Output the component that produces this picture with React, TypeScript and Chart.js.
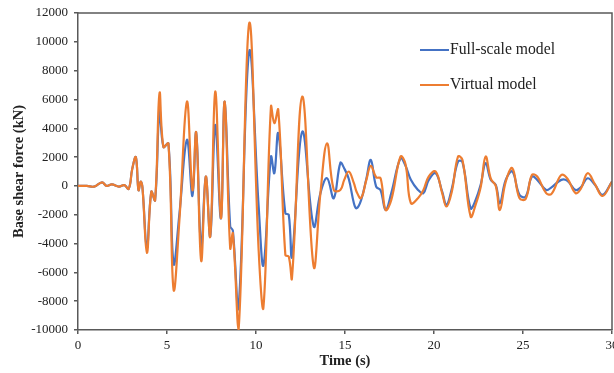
import React, { useEffect, useRef } from "react";
import { Chart, registerables } from "chart.js";

Chart.register(...registerables);

const times = [
  0, 0.5, 0.9, 1.35, 1.6, 1.9, 2.3, 2.6, 2.85, 3.05, 3.25, 3.4, 3.52, 3.62, 3.87, 4.12, 4.33,
  4.58, 4.8, 5.08, 5.37, 5.7, 6.12, 6.43, 6.64, 6.92, 7.18, 7.43, 7.71, 8.03, 8.24, 8.55, 8.7,
  9.02, 9.62, 10.15, 10.42, 10.84, 11.03, 11.25, 11.65, 11.84, 12.02, 12.6, 13.24, 13.62, 13.99,
  14.37, 14.74, 14.95, 15.21, 15.5, 15.65, 15.9, 16.2, 16.45, 16.75, 17.0, 17.28, 17.6, 18.12,
  18.4, 18.7, 19.1, 19.4, 19.7, 20.09, 20.46, 20.7, 21.0, 21.35, 21.6, 22.06, 22.34, 22.62, 22.9,
  23.19, 23.47, 23.7, 24.03, 24.4, 24.8, 25.15, 25.5, 25.8, 26.3, 26.6, 27.15, 27.5, 27.95, 28.25,
  28.63, 29.05, 29.47, 30,
];

const fullScale = [
  0, 0, -50, 250, 0, 100, -50, 50, -200, 1200, 2000, -300, 300, -100, -4300, -400, -1000,
  5200, 2700, 2950, -5400, -1900, 3200, -700, 3700, -4300, 650, -3500, 4240, -2250, 5850, -2800, -3100,
  -8400, 9330, -1430, -5500, 2030, 880, 3650, -1900, -2000, -4900, 3770, -2800, -500, 530,
  -850, 1600, 1230, 500, -1200, -1550, -1000, 500, 1800, -50, -300, -1670, -500, 1920,
  1400, 420, -280, -500, 400, 880, -400, -1320, -200, 1690, 1650, -1550, -970, 70, 1570,
  420, 70, -1200, 420, 1000, -620, -740, 650, 420, -280, -100, 420, 350, -280, -100,
  530, 70, -620, 300,
];

const virtualModel = [
  0, 0, -50, 250, 0, 100, -50, 50, -200, 1200, 2000, -300, 300, -100, -4650, -400, -1000,
  6440, 2700, 2950, -7200, -2300, 5850, -300, 3700, -5200, 650, -3500, 6550, -2250, 5850, -4330, -3300,
  -10000, 11300, -4500, -8400, 5500, 4350, 5280, -4800, -4900, -6400, 6200, -5600, -500, 2960,
  -280, -280, 400, 1000, 190, -400, -850, 420, 1400, 600, 530, -1670, -970, 2040,
  1500, -1200, -850, -300, 650, 1000, -500, -1430, -400, 2040, 1800, -2130, -1300, -100, 2040,
  500, 0, -1670, 300, 1230, -850, -900, 760, 650, -500, -550, 760, 500, -500, -200,
  880, 100, -700, 300,
];

const xTicks = [0, 5, 10, 15, 20, 25, 30];
const legendLabels = ["Full-scale model", "Virtual model"];

const BLUE = "#4472C4";
const ORANGE = "#ED7D31";
const AXIS = "#595959";
const SERIF = "'Liberation Serif', 'Times New Roman', serif";

export default function App() {
  const ref = useRef<HTMLCanvasElement | null>(null);

  useEffect(() => {
    document.body.style.margin = "0";
    document.body.style.overflow = "hidden";
    const canvas = ref.current;
    if (!canvas) return;

    const framePlugin = {
      id: "frameAndLegend",
      afterDraw(chart: any) {
        const { ctx, chartArea } = chart;
        ctx.save();
        ctx.strokeStyle = AXIS;
        ctx.lineWidth = 1.5;
        ctx.beginPath();
        ctx.moveTo(chartArea.left, chartArea.top);
        ctx.lineTo(chartArea.right, chartArea.top);
        ctx.lineTo(chartArea.right, chartArea.bottom);
        ctx.stroke();

        const items = [
          { label: legendLabels[0], color: BLUE, y: 50 },
          { label: legendLabels[1], color: ORANGE, y: 85 },
        ];
        ctx.font = `15.7px ${SERIF}`;
        ctx.textBaseline = "middle";
        ctx.fillStyle = "#222";
        for (const it of items) {
          ctx.strokeStyle = it.color;
          ctx.lineWidth = 2;
          ctx.beginPath();
          ctx.moveTo(420, it.y);
          ctx.lineTo(449, it.y);
          ctx.stroke();
          ctx.fillText(it.label, 450, it.y);
        }
        ctx.restore();
      },
    };

    const chart = new Chart(canvas, {
      type: "line",
      data: {
        datasets: [
          {
            label: legendLabels[1],
            data: times.map((t, i) => ({ x: t, y: virtualModel[i] })),
            borderColor: ORANGE,
            borderWidth: 2.2,
            pointRadius: 0,
            tension: 0.4,
            order: 0,
          },
          {
            label: legendLabels[0],
            data: times.map((t, i) => ({ x: t, y: fullScale[i] })),
            borderColor: BLUE,
            borderWidth: 2.2,
            pointRadius: 0,
            tension: 0.4,
            order: 1,
          },
        ],
      },
      options: {
        responsive: false,
        animation: false,
        devicePixelRatio: 1,
        layout: { padding: { top: 13, right: 2, left: 0, bottom: 0 } },
        plugins: { legend: { display: false }, tooltip: { enabled: false } },
        scales: {
          x: {
            type: "linear",
            min: 0,
            max: 30,
            afterBuildTicks: (s: any) => {
              s.ticks = xTicks.map((v) => ({ value: v }));
            },
            afterFit: (s: any) => {
              s.height = 43;
              s.paddingLeft = 0;
              s.paddingRight = 0;
            },
            ticks: {
              color: "#222",
              font: { family: SERIF, size: 13 },
              padding: 4,
              maxRotation: 0,
              autoSkip: false,
              callback: (v: any) => String(v),
            },
            grid: { drawOnChartArea: false, drawTicks: true, tickLength: 4, color: AXIS, lineWidth: 1.5 },
            border: { color: AXIS, width: 1.5 },
            title: {
              display: true,
              text: "Time (s)",
              color: "#222",
              font: { family: SERIF, size: 14.5, weight: "bold" },
              padding: { top: 0, bottom: 3 },
            },
          },
          y: {
            min: -10000,
            max: 12000,
            ticks: {
              stepSize: 2000,
              color: "#222",
              font: { family: SERIF, size: 13 },
              padding: 6,
              callback: (v: any) => String(v),
            },
            afterFit: (s: any) => {
              s.width = 78;
              s.paddingTop = 0;
              s.paddingBottom = 0;
            },
            grid: { drawOnChartArea: false, drawTicks: true, tickLength: 4, color: AXIS, lineWidth: 1.5 },
            border: { color: AXIS, width: 1.5 },
            title: {
              display: true,
              text: "Base shear force (kN)",
              color: "#222",
              font: { family: SERIF, size: 14.5, weight: "bold" },
              padding: { top: 11, bottom: 0 },
            },
          },
        },
      },
      plugins: [framePlugin],
    } as any);

    return () => chart.destroy();
  }, []);

  return (
    <div style={{ width: 614, height: 373, position: "relative" }}>
      <canvas ref={ref} width={614} height={373} style={{ display: "block" }} />
    </div>
  );
}
